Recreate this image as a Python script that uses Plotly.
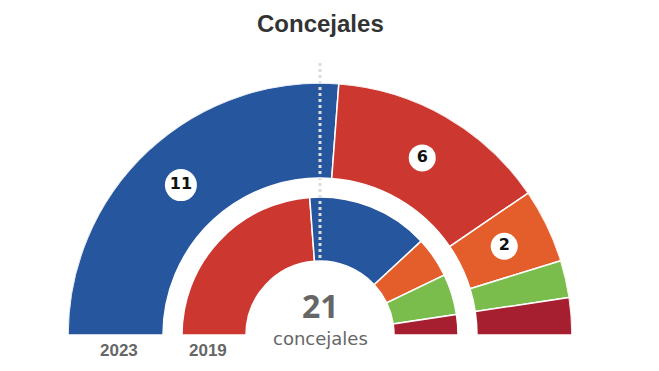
import plotly.graph_objects as go

# ---- data ----
party_colors = {
    "PP": "#26569e",
    "PSOE": "#cc3830",
    "Cs": "#e45e2c",
    "Vox": "#7abd4c",
    "Otros": "#a61f30",
}
parties_2023 = ["PP", "PSOE", "Cs", "Vox", "Otros"]
seats_2023 = [11, 6, 2, 1, 1]
parties_2019 = ["PSOE", "PP", "Cs", "Vox", "Otros"]
seats_2019 = [10, 6, 2, 2, 1]
total_seats = 21
year_labels = ["2023", "2019"]
title_text = "Concejales"
center_label = "concejales"

# ring geometry (radial axis units ~ pixels)
R_MAX = 252
rings = {
    "2023": dict(base=157, thick=95),
    "2019": dict(base=74, thick=64),
}


def sectors(seats):
    tot = sum(seats)
    mids, widths = [], []
    acc = 0
    for s in seats:
        w = s / tot * 180.0
        mids.append(acc + w / 2)
        widths.append(w)
        acc += w
    return mids, widths


fig = go.Figure()

for year, parties, seats in [("2023", parties_2023, seats_2023), ("2019", parties_2019, seats_2019)]:
    mids, widths = sectors(seats)
    g = rings[year]
    fig.add_trace(go.Barpolar(
        theta=mids,
        width=widths,
        r=[g["thick"]] * len(seats),
        base=[g["base"]] * len(seats),
        marker=dict(color=[party_colors[p] for p in parties],
                    line=dict(color="white", width=1.5), opacity=1),
        opacity=1,
        hoverinfo="skip",
        showlegend=False,
    ))

# labels on the 2023 ring (only seats > 1)
mids, widths = sectors(seats_2023)
lab_theta, lab_text, lab_size = [], [], []
for m, s in zip(mids, seats_2023):
    if s > 1:
        lab_theta.append(m)
        lab_text.append("<b>" + str(s) + "</b>")
        lab_size.append(32 if s >= 10 else 27)
g = rings["2023"]
fig.add_trace(go.Scatterpolar(
    theta=lab_theta,
    r=[g["base"] + g["thick"] / 2] * len(lab_theta),
    mode="markers+text",
    text=lab_text,
    textposition="middle center",
    textfont=dict(family="DejaVu Sans", size=16, color="#111"),
    marker=dict(color="white", size=lab_size, line=dict(width=0), opacity=1),
    opacity=1,
    hoverinfo="skip",
    showlegend=False,
))

W, H = 659, 371
OFF = 8  # page body margin offset


def px(x):
    return (x - OFF) / W


def py(y):
    return (H - (y - OFF)) / H


fig.update_layout(
    width=W, height=H,
    margin=dict(l=0, r=0, t=0, b=0),
    paper_bgcolor="white",
    plot_bgcolor="white",
    polar=dict(
        domain=dict(x=[px(68), px(572)], y=[py(335), py(83)]),
        sector=[0, 180],
        bgcolor="white",
        bargap=0,
        radialaxis=dict(range=[0, R_MAX], visible=False, showgrid=False),
        angularaxis=dict(rotation=180, direction="clockwise", visible=False,
                         showgrid=False),
    ),
    shapes=[dict(type="line", xref="paper", yref="paper",
                 x0=px(320), x1=px(320), y0=py(63), y1=py(259),
                 line=dict(color="#dcdcdc", width=3, dash="dot"), layer="above")],
)


def ann(text, x, y, family, size, color):
    fig.add_annotation(text=text, x=px(x), y=py(y), xref="paper", yref="paper",
                       xanchor="center", yanchor="middle", showarrow=False,
                       borderpad=0,
                       font=dict(family=family, size=size, color=color))


ann("<b>" + title_text + "</b>", 320, 23, "Liberation Sans", 24, "#333")
ann("<b>" + str(total_seats) + "</b>", 320, 305, "Noto Sans", 32, "#666")
ann(center_label, 320, 338, "DejaVu Sans", 18, "#666")
ann("<b>" + year_labels[0] + "</b>", 119, 350, "Liberation Sans", 17, "#666")
ann("<b>" + year_labels[1] + "</b>", 208, 350, "Liberation Sans", 17, "#666")

fig.write_html("out.html")
